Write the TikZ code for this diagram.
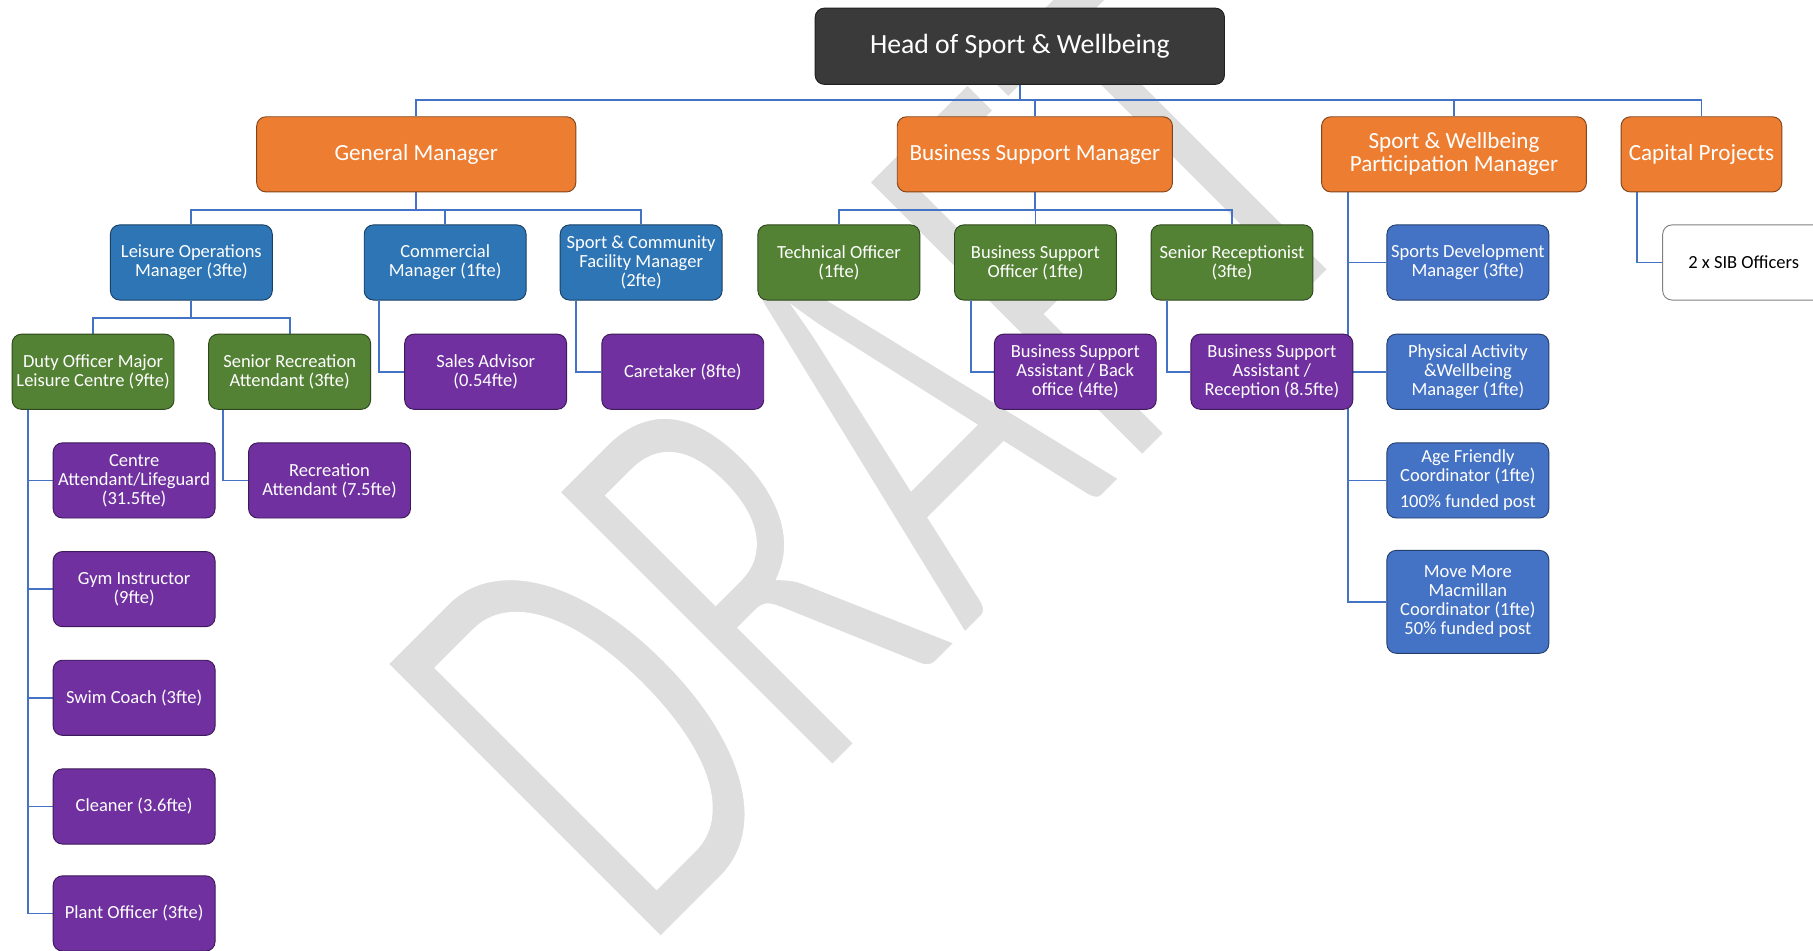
\documentclass[tikz,border=0pt]{standalone}
\usepackage{fontspec}
\setmainfont{Carlito}
\usetikzlibrary{calc,backgrounds}

\definecolor{headgray}{HTML}{3A3A3A}
\definecolor{mgrorange}{HTML}{ED7D31}
\definecolor{opsblue}{HTML}{2E75B6}
\definecolor{partblue}{HTML}{4472C4}
\definecolor{teamgreen}{HTML}{548235}
\definecolor{staffpurple}{HTML}{7030A0}
\definecolor{linkblue}{HTML}{4472C4}
\definecolor{wmgray}{HTML}{DEDEDE}

% light watermark lettering: glyphs filled grey and edged in white, which thins the strokes
\newcommand{\thinletters}[1]{\special{pdf:literal direct 1 G 8 w 2 Tr}#1\special{pdf:literal direct 0 Tr}}

\tikzset{
  post/.style={rounded corners=8pt, draw=#1!55!black, fill=#1, line width=0.8pt,
    text=white, align=center, inner xsep=1pt, inner ysep=0pt,
    minimum width=140pt, minimum height=65pt,
    font=\fontsize{16}{16.5}\selectfont},
  lead/.style={post=mgrorange, font=\fontsize{20}{20}\selectfont},
  plainpost/.style={post=white, draw=black!50, text=black},
  link/.style={draw=linkblue, line width=1.6pt},
  stamp/.style={anchor=base west, inner sep=0pt, text=wmgray,
    font=\fontsize{530}{530}\selectfont, rotate=45, xscale=0.64, transform shape},
}

\begin{document}
\begin{tikzpicture}[x=1pt,y=-1pt]
\useasboundingbox (0,0) rectangle (1568,822);

\begin{scope}
\clip (0,0) rectangle (1568,822);
% top of the structure
\node[post=headgray, minimum width=354pt, minimum height=66pt,
      font=\fontsize{24}{24}\selectfont] (head) at (882,40) {Head of Sport \& Wellbeing};

% managers
\node[lead, minimum width=276pt] (gm)   at (360,133.5)    {General Manager};
\node[lead, minimum width=238pt] (bsm)  at (895,133.5)    {Business Support Manager};
\node[lead, minimum width=229pt] (swpm) at (1257.5,133.5) {Sport \& Wellbeing\\Participation Manager};
\node[lead, minimum width=139pt] (cp)   at (1471.5,133.5) {Capital Projects};

% second tier
\node[post=opsblue]   (lom)  at (165.5,227)  {Leisure Operations\\Manager (3fte)};
\node[post=opsblue]   (cm)   at (385,227)    {Commercial\\Manager (1fte)};
\node[post=opsblue]   (scfm) at (554.5,227)  {Sport \& Community\\Facility Manager\\(2fte)};
\node[post=teamgreen] (to)   at (725.5,227)  {Technical Officer\\(1fte)};
\node[post=teamgreen] (bso)  at (895.5,227)  {Business Support\\Officer (1fte)};
\node[post=teamgreen] (sr)   at (1065.5,227) {Senior Receptionist\\(3fte)};
\node[post=partblue]  (sdm)  at (1269.5,227) {Sports Development\\Manager (3fte)};
\node[plainpost]      (sib)  at (1508,227)   {2 x SIB Officers};

% third tier
\node[post=teamgreen]   (do)   at (80.5,321.5)   {Duty Officer Major\\Leisure Centre (9fte)};
\node[post=teamgreen]   (sra)  at (250.5,321.5)  {Senior Recreation\\Attendant (3fte)};
\node[post=staffpurple] (sa)   at (420,321.5)    {Sales Advisor\\(0.54fte)};
\node[post=staffpurple] (ct)   at (590.5,321.5)  {Caretaker (8fte)};
\node[post=staffpurple] (bsab) at (930,321.5)    {Business Support\\Assistant / Back\\office (4fte)};
\node[post=staffpurple] (bsar) at (1100,321.5)   {Business Support\\Assistant /\\Reception (8.5fte)};
\node[post=partblue]    (pa)   at (1269.5,321.5) {Physical Activity\\\&Wellbeing\\Manager (1fte)};

% fourth tier
\node[post=staffpurple] (ca) at (116,415.5) {Centre\\Attendant/Lifeguard\\(31.5fte)};
\node[post=staffpurple] (gi) at (116,509.5) {Gym Instructor\\(9fte)};
\node[post=staffpurple] (sc) at (116,603.5) {Swim Coach (3fte)};
\node[post=staffpurple] (cl) at (116,697.5) {Cleaner (3.6fte)};
\node[post=staffpurple] (po) at (116,790)   {Plant Officer (3fte)};
\node[post=staffpurple] (ra) at (285,415.5) {Recreation\\Attendant (7.5fte)};
\node[post=partblue]    (af) at (1269.5,415.5) {Age Friendly\\Coordinator (1fte)\\[6pt]100\% funded post};
\node[post=partblue, minimum height=89pt] (mm) at (1269.5,520.5)
      {Move More\\Macmillan\\Coordinator (1fte)\\50\% funded post};
\end{scope}

\begin{scope}[on background layer]
\clip (0,0) rectangle (1568,822);
\fill[white] (0,0) rectangle (1568,822);
% watermark
\node[stamp] (draft) at (556,830) {\thinletters{DRAFT}};

% reporting lines
\draw[link] (head.south) -- ++(0,13) -| (gm.north);
\draw[link] (head.south) -- ++(0,13) -| (bsm.north);
\draw[link] (head.south) -- ++(0,13) -| (swpm.north);
\draw[link] (head.south) -- ++(0,13) -| (cp.north);

\draw[link] (gm.south) -- ++(0,15) -| (lom.north);
\draw[link] (gm.south) -- ++(0,15) -| (cm.north);
\draw[link] (gm.south) -- ++(0,15) -| (scfm.north);

\draw[link] (bsm.south) -- ++(0,15) -| (to.north);
\draw[link] (bsm.south) -- ++(0,15) -| (bso.north);
\draw[link] (bsm.south) -- ++(0,15) -| (sr.north);

\draw[link] (lom.south) -- ++(0,15) -| (do.north);
\draw[link] (lom.south) -- ++(0,15) -| (sra.north);

\draw[link] ($(cm.south west)+(13,0)$)   |- (sa.west);
\draw[link] ($(scfm.south west)+(14,0)$) |- (ct.west);
\draw[link] ($(bso.south west)+(15,0)$)  |- (bsab.west);
\draw[link] ($(sr.south west)+(14,0)$)   |- (bsar.west);
\draw[link] ($(sra.south west)+(13,0)$)  |- (ra.west);
\draw[link] ($(cp.south west)+(14,0)$)   |- (sib.west);

\draw[link] ($(do.south west)+(14,0)$) |- (ca.west);
\draw[link] ($(do.south west)+(14,0)$) |- (gi.west);
\draw[link] ($(do.south west)+(14,0)$) |- (sc.west);
\draw[link] ($(do.south west)+(14,0)$) |- (cl.west);
\draw[link] ($(do.south west)+(14,0)$) |- (po.west);

\draw[link] ($(swpm.south west)+(23,0)$) |- (sdm.west);
\draw[link] ($(swpm.south west)+(23,0)$) |- (pa.west);
\draw[link] ($(swpm.south west)+(23,0)$) |- (af.west);
\draw[link] ($(swpm.south west)+(23,0)$) |- (mm.west);
\end{scope}
\end{tikzpicture}
\end{document}
